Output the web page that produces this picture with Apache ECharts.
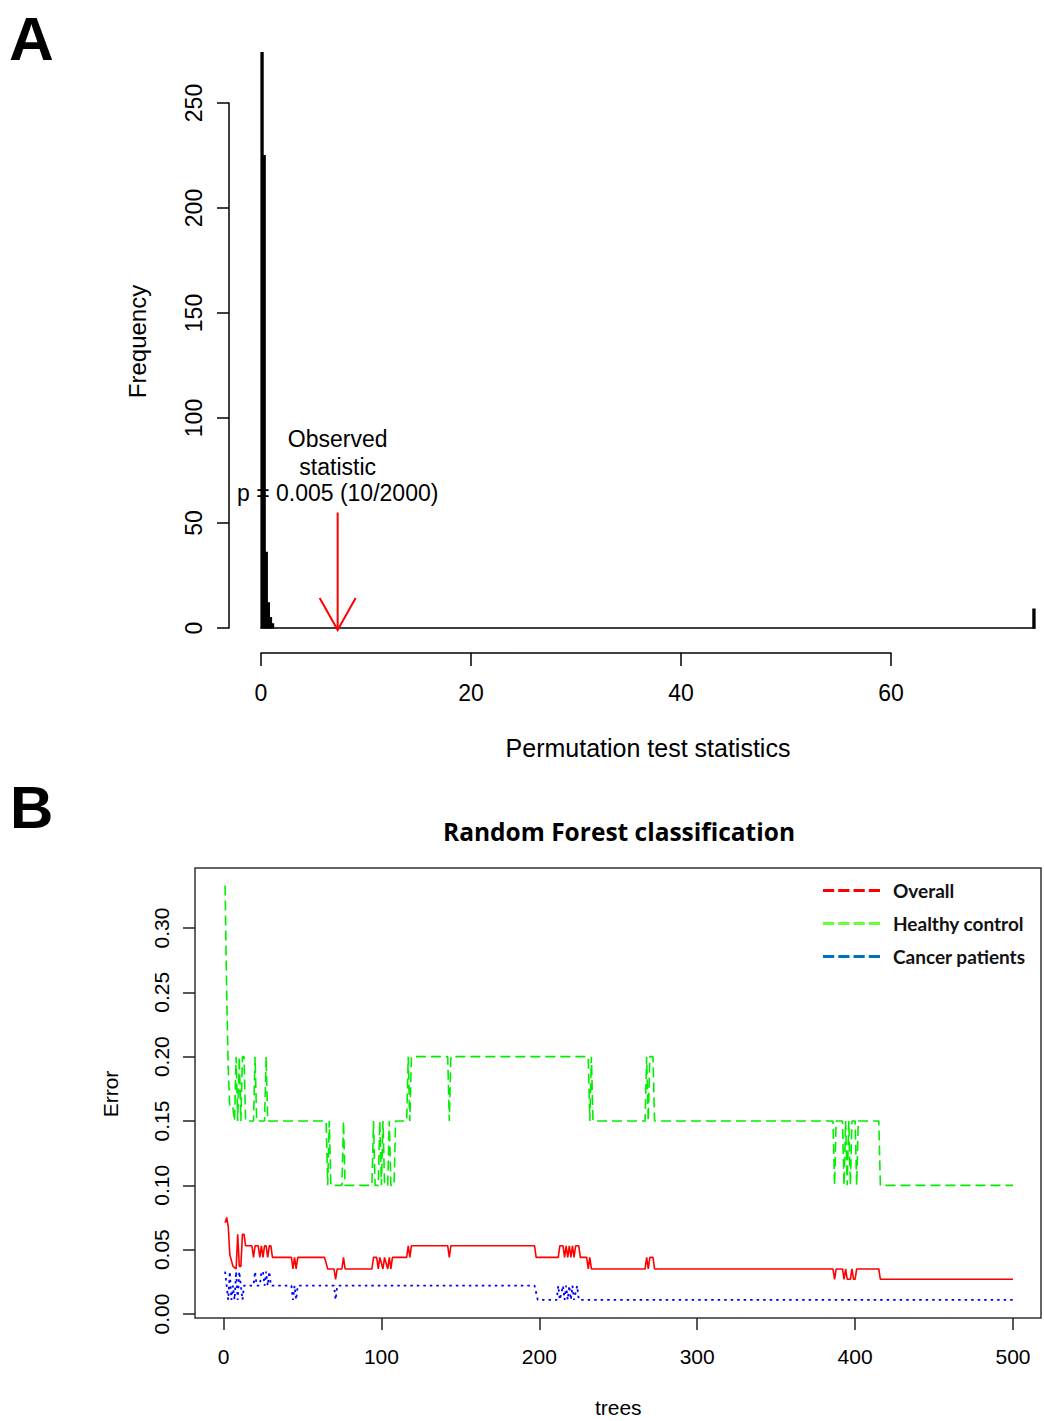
<!DOCTYPE html>
<html>
<head>
<meta charset="utf-8">
<script src="https://cdn.jsdelivr.net/npm/echarts@6/dist/echarts.min.js"></script>
<style>
html, body { margin: 0; padding: 0; background: #fff; }
#chart { width: 1044px; height: 1421px; }
</style>
</head>
<body>
<div id="chart"></div>
<script>
// A: permutation test histogram
const binStart = [0, 0.2, 0.4, 0.6, 0.8, 1.0, 73.5];
const binEnd = [0.2, 0.4, 0.6, 0.8, 1.0, 1.2, 73.7];
const binCount = [274, 225, 36, 12, 5, 2, 9];
const observedStat = 7.3;
const arrowTopFreq = 55;

// B: random forest OOB error vs number of trees (points where the curve changes)
const overallErr = [
  [1, 0.071], [2, 0.075], [3, 0.068], [4, 0.046], [6, 0.037], [8, 0.035], [9, 0.062], [10, 0.037],
  [11, 0.037], [12, 0.062], [13, 0.062], [14, 0.053], [18, 0.053], [19, 0.044], [20, 0.053], [22, 0.053],
  [23, 0.044], [24, 0.053], [25, 0.044], [26, 0.053], [27, 0.053], [28, 0.044], [29, 0.053], [30, 0.053],
  [31, 0.044], [43, 0.044], [44, 0.035], [45, 0.044], [46, 0.035], [47, 0.044], [64, 0.044], [66, 0.035],
  [70, 0.035], [71, 0.027], [72, 0.035], [75, 0.035], [76, 0.044], [77, 0.035], [94, 0.035], [95, 0.044],
  [97, 0.044], [98, 0.035], [99, 0.044], [101, 0.035], [102, 0.044], [104, 0.035], [105, 0.044], [106, 0.035],
  [107, 0.044], [116, 0.044], [117, 0.053], [118, 0.044], [119, 0.053], [142, 0.053], [143, 0.044], [144, 0.053],
  [197, 0.053], [198, 0.044], [212, 0.044], [213, 0.053], [215, 0.053], [216, 0.044], [217, 0.053], [218, 0.044],
  [219, 0.053], [220, 0.044], [221, 0.053], [222, 0.044], [223, 0.053], [225, 0.053], [226, 0.044], [230, 0.044],
  [231, 0.035], [232, 0.044], [233, 0.035], [267, 0.035], [268, 0.044], [269, 0.035], [270, 0.044], [272, 0.044],
  [273, 0.035], [386, 0.035], [387, 0.027], [388, 0.035], [392, 0.035], [393, 0.027], [394, 0.035], [395, 0.027],
  [397, 0.027], [398, 0.035], [399, 0.027], [400, 0.027], [401, 0.035], [415, 0.035], [416, 0.027], [500, 0.027]
];
const healthyErr = [
  [1, 0.333], [2, 0.25], [3, 0.19], [4, 0.16], [6, 0.16], [7, 0.15], [8, 0.20], [9, 0.15],
  [10, 0.20], [11, 0.15], [12, 0.20], [13, 0.20], [14, 0.15], [19, 0.15], [20, 0.20], [21, 0.15],
  [26, 0.15], [27, 0.20], [28, 0.15], [65, 0.15], [66, 0.10], [67, 0.15], [68, 0.10], [75, 0.10],
  [76, 0.15], [77, 0.10], [94, 0.10], [95, 0.15], [96, 0.10], [98, 0.10], [99, 0.15], [100, 0.10],
  [101, 0.15], [102, 0.10], [104, 0.10], [105, 0.15], [106, 0.10], [108, 0.10], [109, 0.15], [116, 0.15],
  [117, 0.20], [118, 0.15], [119, 0.20], [142, 0.20], [143, 0.15], [144, 0.20], [231, 0.20], [232, 0.15],
  [233, 0.20], [234, 0.15], [267, 0.15], [268, 0.20], [269, 0.15], [270, 0.20], [272, 0.20], [273, 0.15],
  [386, 0.15], [387, 0.10], [388, 0.15], [392, 0.15], [393, 0.10], [394, 0.15], [395, 0.10], [396, 0.15],
  [397, 0.10], [398, 0.15], [400, 0.15], [401, 0.10], [402, 0.15], [415, 0.15], [416, 0.10], [500, 0.10]
];
const cancerErr = [
  [1, 0.033], [2, 0.022], [3, 0.011], [4, 0.033], [5, 0.011], [6, 0.022], [7, 0.011], [8, 0.033],
  [9, 0.011], [10, 0.033], [11, 0.022], [12, 0.011], [13, 0.022], [19, 0.022], [20, 0.033], [21, 0.022],
  [23, 0.022], [24, 0.033], [25, 0.033], [26, 0.022], [27, 0.033], [28, 0.022], [29, 0.033], [30, 0.022],
  [43, 0.022], [44, 0.011], [45, 0.022], [46, 0.011], [47, 0.022], [70, 0.022], [71, 0.011], [72, 0.022],
  [197, 0.022], [199, 0.011], [211, 0.011], [212, 0.022], [213, 0.011], [215, 0.022], [216, 0.011], [217, 0.022],
  [218, 0.011], [219, 0.022], [220, 0.011], [221, 0.022], [222, 0.011], [224, 0.022], [225, 0.011], [500, 0.011]
];
const seriesNames = ['Overall', 'Healthy control', 'Cancer patients'];
const lineColors = ['#ff0000', '#00ee00', '#0000ff'];
const legendColors = ['#ff0000', '#66ff33', '#0070c0'];

const rFont = 'Liberation Sans';
const chart = echarts.init(document.getElementById('chart'), null, { renderer: 'svg' });

const blackLine = { lineStyle: { color: '#000', width: 1.5 } };

const option = {
  backgroundColor: '#fff',
  animation: false,
  title: [
    { text: 'A', left: 4, top: 2, textStyle: { fontFamily: rFont, fontWeight: 'bold', fontSize: 62, color: '#000' } },
    { text: 'B', left: 5, top: 772, textStyle: { fontFamily: rFont, fontWeight: 'bold', fontSize: 60, color: '#000' } },
    { text: 'Random Forest classification', left: 619, top: 819, textAlign: 'center', padding: 0,
      textStyle: { fontFamily: 'Open Sans', fontWeight: 'bold', fontSize: 24.5, color: '#000' } }
  ],
  legend: {
    orient: 'vertical', left: 823, top: 881, itemWidth: 57, itemHeight: 4, itemGap: 14, padding: 0,
    selectedMode: false,
    icon: 'path://M0,0h11v3h-11z M15,0h11v3h-11z M30,0h11v3h-11z M45,0h11v3h-11z',
    data: seriesNames.map((n, i) => ({ name: n, itemStyle: { color: legendColors[i], borderWidth: 0 } })),
    textStyle: { fontFamily: 'Lato', fontWeight: 'bold', fontSize: 19, color: '#111', padding: [0, 0, 0, 8] }
  },
  grid: [
    { left: 261, top: 103, width: 774, height: 525 },          // histogram
    { left: 261, top: 600, width: 630, height: 53 },           // A x axis (0..60)
    { left: 195, top: 868, right: 3, bottom: 103, show: true, borderColor: '#333', borderWidth: 1.5 }, // B box
    { left: 223.5, top: 928, width: 789.5, height: 386 }       // B data + ticks
  ],
  xAxis: [
    { gridIndex: 0, type: 'value', min: 0, max: binEnd[binEnd.length - 1],
      axisLine: { show: true, onZero: false, lineStyle: { color: '#000', width: 1.5 } },
      axisTick: { show: false }, axisLabel: { show: false }, splitLine: { show: false },
      name: 'Permutation test statistics', nameLocation: 'middle', nameGap: 107,
      nameTextStyle: { fontFamily: rFont, fontSize: 25, color: '#000' } },
    { gridIndex: 1, type: 'value', min: 0, max: 60, interval: 20,
      axisLine: { show: true, onZero: false, ...blackLine },
      axisTick: { show: true, length: 13, ...blackLine },
      axisLabel: { margin: 28, fontFamily: rFont, fontSize: 23, color: '#000' },
      splitLine: { show: false } },
    { gridIndex: 2, type: 'value', min: 0, max: 1, show: false },
    { gridIndex: 3, type: 'value', min: 0, max: 500, interval: 100, offset: 4,
      axisLine: { show: false, onZero: false },
      axisTick: { show: true, length: 12, lineStyle: { color: '#222', width: 1.5 } },
      axisLabel: { margin: 28, fontFamily: rFont, fontSize: 21, color: '#000' },
      splitLine: { show: false },
      name: 'trees', nameLocation: 'middle', nameGap: 79,
      nameTextStyle: { fontFamily: rFont, fontSize: 21, color: '#000' } }
  ],
  yAxis: [
    { gridIndex: 0, type: 'value', min: 0, max: 250, interval: 50, offset: 32,
      axisLine: { show: true, onZero: false, ...blackLine },
      axisTick: { show: true, length: 12, ...blackLine },
      axisLabel: { rotate: 90, margin: 24, fontFamily: rFont, fontSize: 23, color: '#000' },
      splitLine: { show: false },
      name: 'Frequency', nameLocation: 'middle', nameGap: 80,
      nameTextStyle: { fontFamily: rFont, fontSize: 24, color: '#000', padding: [0, 0, 0, 48] } },
    { gridIndex: 1, type: 'value', min: 0, max: 1, show: false },
    { gridIndex: 2, type: 'value', min: 0, max: 1, show: false },
    { gridIndex: 3, type: 'value', min: 0, max: 0.3, interval: 0.05, offset: 28.5,
      axisLine: { show: false, onZero: false },
      axisTick: { show: true, length: 12, lineStyle: { color: '#222', width: 1.5 } },
      axisLabel: { rotate: 90, margin: 23, fontFamily: rFont, fontSize: 21, color: '#000',
        formatter: v => v.toFixed(2) },
      splitLine: { show: false },
      name: 'Error', nameLocation: 'middle', nameGap: 74,
      nameTextStyle: { fontFamily: rFont, fontSize: 21, color: '#000', padding: [0, 0, 0, 54] } }
  ],
  series: [
    {
      type: 'custom', name: 'histogram', xAxisIndex: 0, yAxisIndex: 0, z: 3,
      data: binStart.map((s, i) => [s, binEnd[i], binCount[i]]),
      encode: { x: [0, 1], y: 2 },
      renderItem: function (params, api) {
        const p0 = api.coord([api.value(0), api.value(2)]);
        const p1 = api.coord([api.value(1), 0]);
        return {
          type: 'rect',
          shape: { x: p0[0], y: p0[1], width: p1[0] - p0[0], height: p1[1] - p0[1] },
          style: { fill: '#000', stroke: '#000', lineWidth: 1.2 }
        };
      }
    },
    {
      type: 'custom', name: 'observed', xAxisIndex: 0, yAxisIndex: 0, z: 2,
      data: [[observedStat, arrowTopFreq]],
      renderItem: function (params, api) {
        const top = api.coord([api.value(0), api.value(1)]);
        const tip = api.coord([api.value(0), 0]);
        const red = { stroke: '#ff0000', lineWidth: 2, fill: null };
        const txt = (s, dy) => ({
          type: 'text', x: top[0], y: top[1] + dy,
          style: { text: s, fontFamily: rFont, fontSize: 23, fill: '#000', align: 'center', verticalAlign: 'middle' }
        });
        return {
          type: 'group',
          children: [
            { type: 'line', shape: { x1: top[0], y1: top[1], x2: tip[0], y2: tip[1] + 2 }, style: red },
            { type: 'polyline', shape: { points: [[tip[0] - 18, tip[1] - 30], [tip[0], tip[1] + 2], [tip[0] + 18, tip[1] - 30]] }, style: red },
            txt('Observed', -74),
            txt('statistic', -46),
            txt('p = 0.005 (10/2000)', -20)
          ]
        };
      }
    },
    {
      type: 'line', name: seriesNames[0], xAxisIndex: 3, yAxisIndex: 3, data: overallErr,
      symbol: 'none', clip: false, z: 4,
      lineStyle: { color: lineColors[0], width: 1.6, type: 'solid' }
    },
    {
      type: 'line', name: seriesNames[1], xAxisIndex: 3, yAxisIndex: 3, data: healthyErr,
      symbol: 'none', clip: false, z: 3,
      lineStyle: { color: lineColors[1], width: 1.6, type: [10, 5] }
    },
    {
      type: 'line', name: seriesNames[2], xAxisIndex: 3, yAxisIndex: 3, data: cancerErr,
      symbol: 'none', clip: false, z: 3,
      lineStyle: { color: lineColors[2], width: 1.8, type: [2.5, 4] }
    }
  ]
};

chart.setOption(option);
</script>
</body>
</html>
